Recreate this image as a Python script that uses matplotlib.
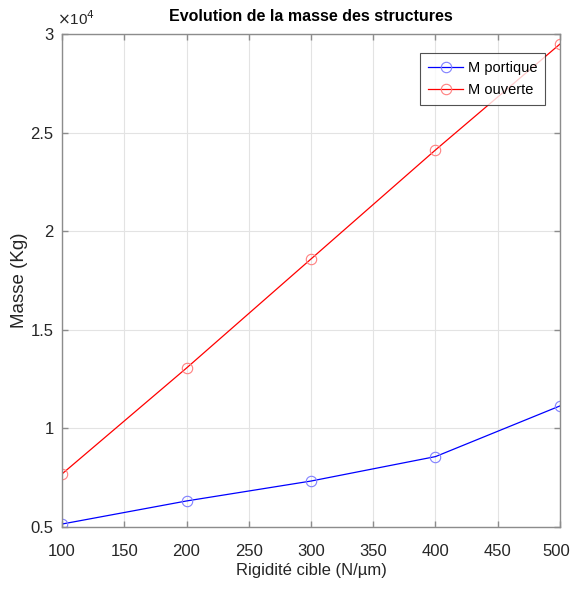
import matplotlib
matplotlib.use("Agg")
import matplotlib.pyplot as plt
import matplotlib.transforms as mtransforms
from matplotlib import font_manager

x = [100, 200, 300, 400, 500]
m_portique = [5150, 6320, 7330, 8570, 11140]
m_ouverte = [7690, 13060, 18590, 24120, 29490]
xticks = [100, 150, 200, 250, 300, 350, 400, 450, 500]
yticks = [5000, 10000, 15000, 20000, 25000, 30000]
ytick_labels = ["0.5", "1", "1.5", "2", "2.5", "3"]

names = {f.name for f in font_manager.fontManager.ttflist}
fam = "Liberation Sans Narrow" if "Liberation Sans Narrow" in names else "Liberation Sans"
plt.rcParams['font.family'] = [fam, 'DejaVu Sans']

fig = plt.figure(figsize=(5.72, 5.92), dpi=100)
ax = fig.add_axes([0.1084, 0.1098, 0.8706, 0.8328])

ax.plot(x, m_portique, color='#0000ff', lw=0.9, marker='o', ms=7.5, mfc='none',
        mec='#8080ff', mew=0.8, label='M portique')
ax.plot(x, m_ouverte, color='#ff0000', lw=0.9, marker='o', ms=7.5, mfc='none',
        mec='#ff8080', mew=0.8, label='M ouverte')

ax.set_xlim(100, 500)
ax.set_ylim(5000, 30000)
ax.set_xticks(xticks)
ax.set_yticks(yticks)
ax.set_yticklabels(ytick_labels)
ax.grid(True, color='#e3e3e3', lw=0.8)
ax.set_axisbelow(True)
for s in ax.spines.values():
    s.set_color('#8c8c8c')
    s.set_linewidth(1.0)
ax.tick_params(direction='in', length=4, width=1.0, color='#8c8c8c',
               labelsize=12, labelcolor='#262626', top=True, right=True)
ax.tick_params(axis='x', pad=12)
ax.tick_params(axis='y', pad=6)

# nudge the last x tick label slightly left so it stays inside the figure
last = ax.get_xticklabels()[-1]
last.set_transform(last.get_transform() +
                   mtransforms.ScaledTranslation(-4 / 100, 0, fig.dpi_scale_trans))

ax.set_title('Evolution de la masse des structures', fontsize=11.5, fontweight='bold',
             color='black', pad=9)
ax.set_xlabel('Rigidité cible (N/µm)', fontsize=12, color='#262626', labelpad=3)
ax.set_ylabel('Masse (Kg)', fontsize=13.5, color='#262626', labelpad=2)
ax.text(-0.01, 1.012, r'$\times$10$^4$', transform=ax.transAxes, fontsize=11,
        color='#262626', ha='left', va='bottom')

leg = ax.legend(loc='upper right', bbox_to_anchor=(0.97, 0.962), fontsize=10.5,
                frameon=True, fancybox=False, borderpad=0.55, handlelength=2.4,
                handletextpad=0.3, labelspacing=0.55, borderaxespad=0)
leg.get_frame().set_edgecolor('#262626')
leg.get_frame().set_linewidth(0.8)

fig.savefig('out.png', dpi=100)
